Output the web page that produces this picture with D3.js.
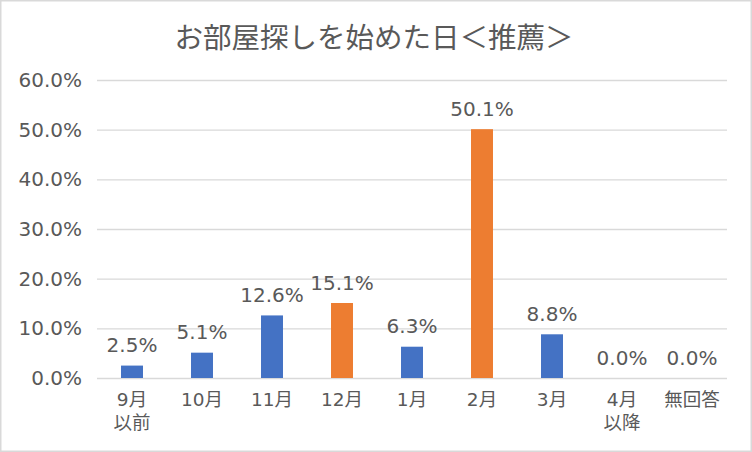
<!DOCTYPE html>
<html><head><meta charset="utf-8">
<script src="https://cdn.jsdelivr.net/npm/d3@7"></script>
<style>
html,body{margin:0;padding:0;background:#fff;}
svg{display:block;}
text{font-family:"DejaVu Sans","Noto Sans CJK JP",sans-serif;fill:#595959;}
</style></head>
<body>
<svg id="chart" width="752" height="452"></svg>
<script>
const title = "お部屋探しを始めた日＜推薦＞";
const categories = ["9月\n以前","10月","11月","12月","1月","2月","3月","4月\n以降","無回答"];
const values = [2.5, 5.1, 12.6, 15.1, 6.3, 50.1, 8.8, 0.0, 0.0];
const highlight = ["12月","2月"];
const yTicks = [0,10,20,30,40,50,60];

const W = 752, H = 452;
const m = {left:97, right:25, top:80, bottom:74};
const FONT = '"DejaVu Sans","Noto Sans CJK JP",sans-serif';
const svg = d3.select("#chart");

svg.append("rect").attr("x",0.75).attr("y",0.75).attr("width",W-1.5).attr("height",H-1.5)
  .attr("fill","#fff").attr("stroke","#d9d9d9").attr("stroke-width",1.5);

const x = d3.scaleBand().domain(categories).range([m.left, W-m.right]).paddingInner(0.686).paddingOuter(0.343);
const y = d3.scaleLinear().domain([0,60]).range([H-m.bottom, m.top]);

svg.append("text").attr("x",374).attr("y",48).attr("text-anchor","middle")
  .attr("font-size",28.5).style("font-family",'"Noto Sans CJK JP",sans-serif').text(title);

// grid
const yAxis = d3.axisLeft(y).tickValues(yTicks).tickSize(-(W-m.left-m.right)).tickFormat(d=>d.toFixed(1)+"%").tickPadding(15);
const gy = svg.append("g").attr("transform",`translate(${m.left},0)`).call(yAxis);
gy.select(".domain").remove();
gy.selectAll(".tick line").attr("stroke","#d9d9d9").attr("stroke-width",1.3);
gy.selectAll(".tick text").attr("font-size",20).attr("fill","#595959").style("font-family",FONT);

// bars
svg.append("g").selectAll("rect").data(categories).join("rect")
  .attr("x",d=>x(d)).attr("width",x.bandwidth())
  .attr("y",(d,i)=>y(values[i])).attr("height",(d,i)=>y(0)-y(values[i]))
  .attr("fill",d=>highlight.includes(d)?"#ED7D31":"#4472C4");

// labels
svg.append("g").selectAll("text").data(categories).join("text")
  .attr("x",d=>x(d)+x.bandwidth()/2).attr("y",(d,i)=>y(values[i])-13.5)
  .attr("text-anchor","middle").attr("font-size",20)
  .text((d,i)=>values[i].toFixed(1)+"%");

// x axis labels
const gx = svg.append("g");
categories.forEach(c=>{
  c.split("\n").forEach((l,i)=>{
    gx.append("text").attr("x",x(c)+x.bandwidth()/2).attr("y",y(0)+28+i*23)
      .attr("text-anchor","middle").attr("font-size",18.5).text(l);
  });
});
</script>
</body></html>
